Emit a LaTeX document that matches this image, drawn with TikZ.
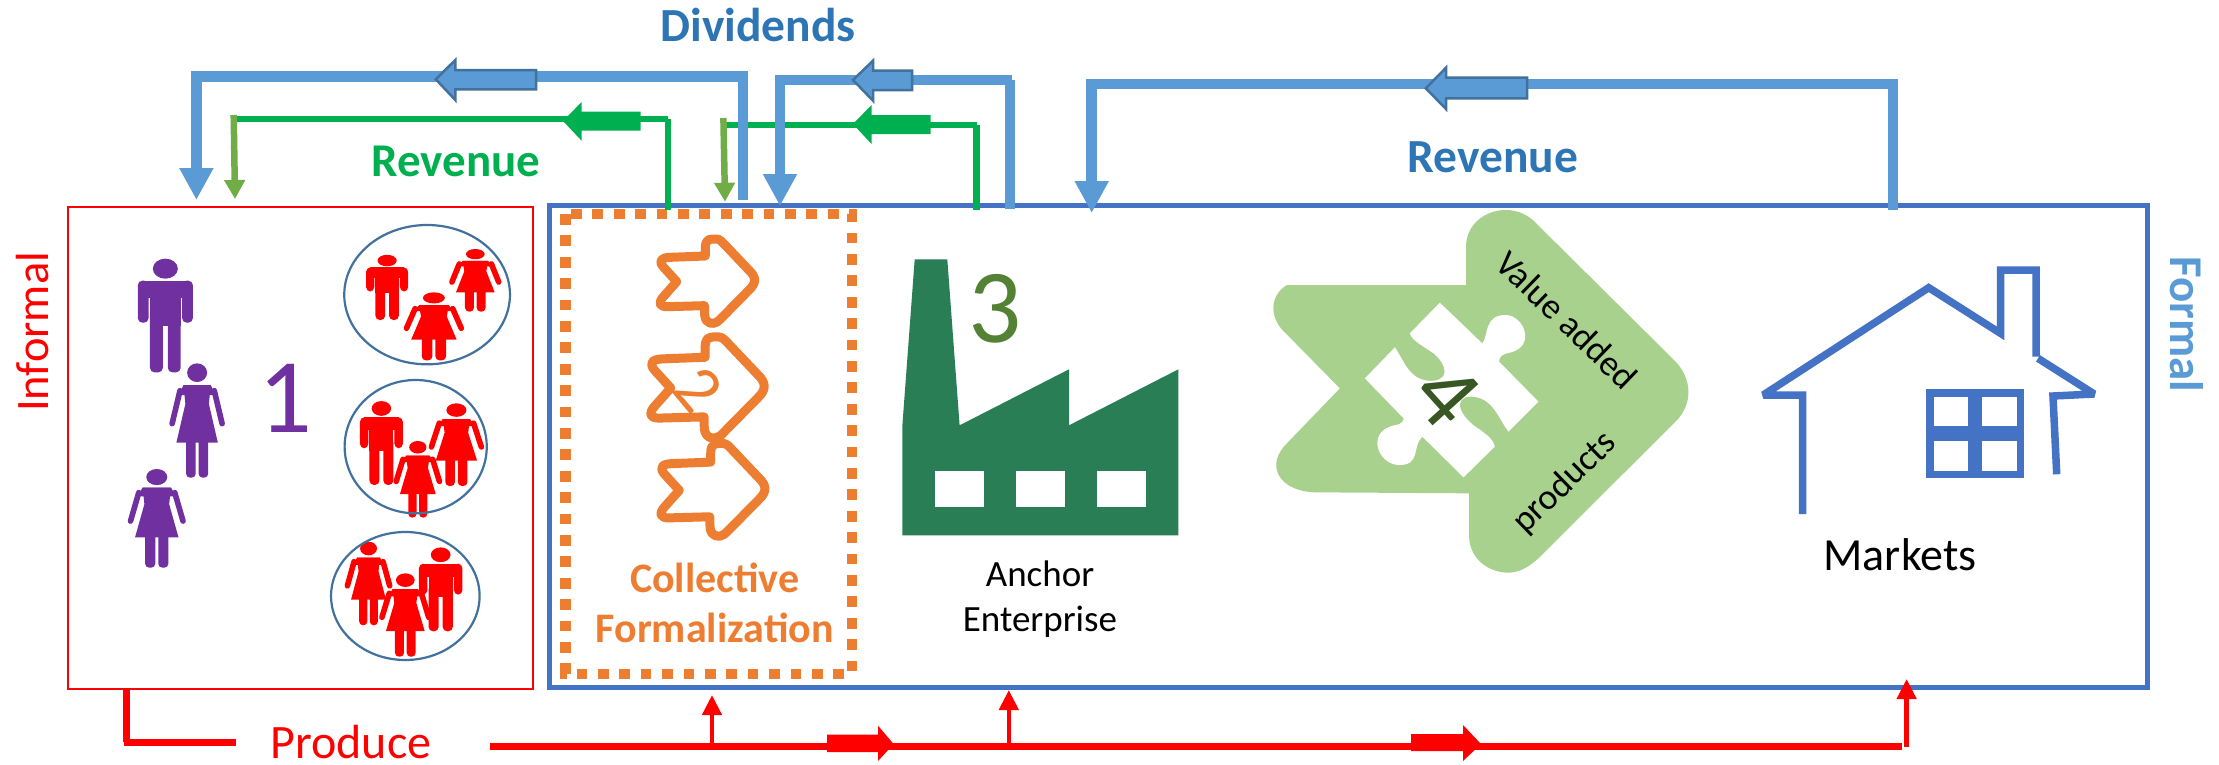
\documentclass[tikz,border=0pt]{standalone}
\usepackage{fontspec}
\setmainfont{Carlito}
\usetikzlibrary{arrows.meta}
\definecolor{cblue}{HTML}{4472C4}
\definecolor{lblue}{HTML}{5B9BD5}
\definecolor{dblue}{HTML}{41719C}
\definecolor{tblue}{HTML}{2E75B6}
\definecolor{cgreen}{HTML}{00B050}
\definecolor{lgreen}{HTML}{70AD47}
\definecolor{corange}{HTML}{ED7D31}
\definecolor{cpurple}{HTML}{7030A0}
\definecolor{factory}{HTML}{297E56}
\definecolor{pale}{HTML}{A9D18E}
\definecolor{three}{HTML}{548235}
\definecolor{four}{HTML}{385723}
\newcommand\fs[1]{\fontsize{#1}{#1}\selectfont}
\tikzset{
 lbl/.style={inner sep=0pt,outer sep=0pt,anchor=base},
 bluewire/.style={draw=lblue,line width=#1,line join=miter},
 greenwire/.style={draw=cgreen,line width=6.7pt},
 bluedown/.style={draw=lblue,line width=10.5pt,-{Triangle[length=32pt,width=32pt]}},
 greendown/.style={draw=lgreen,line width=6.5pt,-{Triangle[length=19pt,width=20pt]}},
 redup/.style={draw=red,line width=4.5pt,-{Triangle[length=20pt,width=19pt]}},
 redwire/.style={draw=red,line width=7pt},
 bluemid/.style={fill=lblue,draw=dblue,line width=2.5pt,line join=miter},
 greenmid/.style={fill=cgreen},
 redmid/.style={fill=red},
 orarrow/.style={draw=corange,line width=9pt,line join=round},
 bubble/.style={draw=dblue,line width=2.2pt},
 housewall/.style={draw=cblue,line width=7.5pt,line join=miter,miter limit=2.5},
}
\newcommand\manfig[5]{\begin{scope}[shift={(#1,#2)},xscale=#3,yscale=#4,fill=#5]
 \fill (0,29) ellipse [x radius=35,y radius=30];
 \fill[rounded corners=4.5pt] (-77,65) rectangle (-47,191);
 \fill[rounded corners=4.5pt] (47,65) rectangle (77,191);
 \fill (-62,65) rectangle (62,118);
 \fill (-43,65) rectangle (43,200);
 \fill[rounded corners=4.5pt] (-43,150) rectangle (-7,340);
 \fill[rounded corners=4.5pt] (7,150) rectangle (43,340);
\end{scope}}
\newcommand\womanfig[5]{\begin{scope}[shift={(#1,#2)},xscale=#3,yscale=#4,fill=#5]
 \fill (0,28) ellipse [x radius=28,y radius=28];
 \fill (-38,65) -- (38,65) -- (33,122) -- (58,238) -- (-58,238) -- (-33,122) -- cycle;
 \draw[#5,line width=5.6pt,line cap=round] (48,82) -- (70,181);
 \draw[#5,line width=5.6pt,line cap=round] (-48,82) -- (-70,181);
 \fill (-38,65) -- (38,65) -- (52,95) -- (-52,95) -- cycle;
 \fill[rounded corners=4pt] (-31,200) rectangle (-4,343);
 \fill[rounded corners=4pt] (4,200) rectangle (31,343);
\end{scope}}
\newcommand\chev[3]{\draw[orarrow,shift={(#1,#2)},xscale=#3/2.45,yscale=#3/3]
 (-78,1) -- (-110,-42) .. controls (-125,-62) and (-115,-71) .. (-95,-72) -- (-8,-76) -- (-8,-100) .. controls (-8,-130) and (5,-127) .. (19,-127) .. controls (28,-127) and (33,-118) .. (38,-112) -- (100,-32) .. controls (117,-12) and (117,5) .. (100,25) -- (30,112) .. controls (20,127) and (5,132) .. (-5,118) .. controls (-10,110) and (-10,100) .. (-10,73) -- (-100,76) .. controls (-120,77) and (-125,65) .. (-110,45) -- cycle;}
\begin{document}
\begin{tikzpicture}[x=1pt,y=-1pt]
\useasboundingbox (0,0) rectangle (2219,764);
\fill[white] (0,0) rectangle (2219,764);

% boxes
\node[draw=red,line width=2.8pt,inner sep=0pt,minimum width=465pt,minimum height=482pt] (informalbox) at (300.5,448) {};
\node[draw=cblue,line width=5pt,inner sep=0pt,minimum width=1598pt,minimum height=482pt] (formalbox) at (1348,446) {};
\draw[corange,line width=10.5pt,dash pattern=on 10.7pt off 10.7pt] (565.7,214) rectangle (852,674);

% people
\begin{scope}[shift={(0,180)},xscale=1/2.8,yscale=1/3]
 \manfig{463}{237}{1}{1}{cpurple}
 \womanfig{552}{550}{1}{1}{cpurple}
 \womanfig{439}{867}{1.05}{.863}{cpurple}
 \manfig{1084}{225}{.766}{.574}{red}
 \womanfig{1331}{207}{.936}{.548}{red}
 \womanfig{1215}{337}{1.096}{.595}{red}
 \manfig{1068}{664}{.78}{.738}{red}
 \womanfig{1278}{670}{1}{.723}{red}
 \womanfig{1170}{783}{.865}{.67}{red}
 \womanfig{1032}{1085}{.846}{.732}{red}
 \manfig{1234}{1103}{.79}{.738}{red}
 \womanfig{1135}{1180}{.936}{.729}{red}
 \draw[bubble] (1196,344) ellipse [x radius=232,y radius=209];
 \draw[bubble] (1164,800) ellipse [x radius=199,y radius=200];
 \draw[bubble] (1135,1248) ellipse [x radius=208,y radius=192];
\end{scope}

% orange arrows
\begin{scope}[shift={(540,190)}]
 \chev{413/2.45}{274/3}{1}
 \chev{414/2.45}{593/3}{1.2}
 \chev{427/2.45}{900/3}{1.1}
\end{scope}
\node[lbl,anchor=center,text=corange,rotate=-50,font=\fs{68}] (two) at (698,390) {2};

% factory
\fill[factory] (902.4,535.3) -- (902.4,425) -- (914.7,259.3) -- (947.3,259.3) -- (959.6,425.3) -- (1069,369.3) -- (1069,425.3) -- (1178.4,369.3) -- (1178.4,535.3) -- cycle;
\fill[white] (935,470.7) rectangle (983.7,506.7);
\fill[white] (1016,470.7) rectangle (1065,506.7);
\fill[white] (1097,470.7) rectangle (1146,506.7);

% value-added arrow with puzzle piece
\begin{scope}[shift={(1240,190)},xscale=1/1.6016,yscale=1/3]
 \fill[pale] (160,595) -- (68,420) .. controls (50,385) and (45,320) .. (75,285) -- (362,285) -- (362,170) .. controls (362,100) and (395,60) .. (425,60) .. controls (445,60) and (460,75) .. (470,92) -- (695,510) .. controls (725,565) and (725,640) .. (700,690) -- (478,1105) .. controls (460,1135) and (445,1148) .. (430,1148) .. controls (395,1148) and (367,1100) .. (367,1040) -- (367,910) -- (120,907) .. controls (70,905) and (40,840) .. (70,770) -- cycle;
 \fill[white] (320,338) -- (388,460) .. controls (398,440) and (390,375) .. (425,375) .. controls (455,375) and (475,470) .. (432,488) .. controls (420,492) and (415,500) .. (415,515) -- (478,635) -- (430,725) .. controls (415,690) and (405,620) .. (370,620) .. controls (340,620) and (350,680) .. (385,720) .. controls (395,735) and (405,745) .. (408,770) -- (358,862) -- (292,740) .. controls (275,770) and (290,825) .. (255,825) .. controls (220,825) and (200,720) .. (250,705) .. controls (258,702) and (262,695) .. (262,685) -- (200,565) -- (248,472) .. controls (262,510) and (270,565) .. (300,572) .. controls (335,578) and (335,530) .. (310,490) .. controls (290,465) and (275,450) .. (272,430) -- cycle;
 % house
 \draw[housewall] (901,972) -- (901,615) -- (838,615) -- (1103,293) -- (1218,430) -- (1218,240) -- (1275,240) -- (1275,500);
 \draw[housewall] (1278,505) -- (1368,612) -- (1302,618) -- (1308,853);
 \fill[cblue] (1099,597) rectangle (1255,865);
 \fill[white] (1112,621) rectangle (1166,708);
 \fill[white] (1188,621) rectangle (1244,708);
 \fill[white] (1112,752) rectangle (1166,842);
 \fill[white] (1188,752) rectangle (1244,842);
\end{scope}
\node[lbl,anchor=center,text=four,rotate=-48,font=\fs{96}] (four) at (1447,395) {4};

% labels
\node[lbl,text=red,rotate=90,font=\fs{46.5}] (informal) at (48,332) {Informal};
\node[lbl,text=lblue,rotate=-90,font=\bfseries\fs{47}] (formal) at (2170,324.5) {Formal};
\node[lbl,text=cpurple,font=\fs{106}] (one) at (285,432) {1};
\node[lbl,text=three,font=\fs{105}] (three) at (995,342) {3};
\node[lbl,text=corange,font=\bfseries\fs{42}] (coll) at (714.7,592.7) {Collective};
\node[lbl,text=corange,font=\bfseries\fs{42}] (form) at (714.7,642.7) {Formalization};
\node[lbl,font=\fs{37}] (anchorl) at (1040,586) {Anchor};
\node[lbl,font=\fs{37}] (enter) at (1040,631.7) {Enterprise};
\node[lbl,font=\fs{46}] (markets) at (1900,570) {Markets};
\node[lbl,anchor=center,rotate=-44,font=\fs{36}] (value) at (1567,320) {Value added};
\node[lbl,anchor=center,rotate=44,font=\fs{36}] (products) at (1565,483) {products};
\node[lbl,text=tblue,font=\bfseries\fs{47.5}] (div) at (758,41) {Dividends};
\node[lbl,text=cgreen,font=\bfseries\fs{47}] (revg) at (456,176) {Revenue};
\node[lbl,text=tblue,font=\bfseries\fs{47.5}] (revb) at (1493,172.7) {Revenue};
\node[lbl,text=red,font=\fs{48}] (produce) at (351,758.7) {Produce};

% anchor points of connectors
\coordinate (d1s) at (743,200); \coordinate (d1t) at (196.4,200);
\coordinate (d2s) at (1010,209); \coordinate (d2t) at (780,206);
\coordinate (r1s) at (668,210); \coordinate (r1t) at (235,199);
\coordinate (r2s) at (976.6,210); \coordinate (r2t) at (725,201.7);
\coordinate (rbs) at (1893,210); \coordinate (rbt) at (1091.7,213);
\coordinate (pl) at (126.7,689); \coordinate (up1) at (712,695); \coordinate (up2) at (1008.8,690); \coordinate (up3) at (1906.6,679);

% green connectors
\draw[greenwire] (r1s) -- (668,119);
\draw[greenwire] (668,119) -- (233,119);
\draw[greendown] (233.7,115) -- (r1t);
\draw[greenwire] (r2s) -- (976.6,125);
\draw[greenwire] (976.6,125) -- (724,125);
\draw[greendown] (723.4,118) -- (r2t);
% blue connectors
\draw[bluewire=10pt] (d1s) -- (743,76.5);
\draw[bluewire=11.6pt] (748,76.5) -- (191,76.5);
\draw[bluedown] (196.4,76) -- (d1t);
\draw[bluewire=10pt] (d2s) -- (1010,80);
\draw[bluewire=10pt] (1012,80) -- (775,80);
\draw[bluedown] (780,76) -- (d2t);
\draw[bluewire=10pt] (rbs) -- (1893,84);
\draw[bluewire=10pt] (1898,84) -- (1086,84);
\draw[bluedown] (1091.7,80) -- (rbt);
% block markers on the connectors
\draw[bluemid] (435.8,79.3) -- (455.3,60) -- (455.3,70) -- (536.2,70) -- (536.2,89.3) -- (455.3,89.3) -- (455.3,100) -- cycle;
\draw[bluemid] (853,80) -- (873,60.7) -- (873,70.7) -- (912,70.7) -- (912,90) -- (873,90) -- (873,100.7) -- cycle;
\draw[bluemid] (1425.8,88.3) -- (1446,67.7) -- (1446,77.7) -- (1527,77.7) -- (1527,98.3) -- (1446,98.3) -- (1446,109) -- cycle;
\fill[greenmid] (563,121) -- (581.6,102) -- (581.6,111.7) -- (640.7,111.7) -- (640.7,130.7) -- (581.6,130.7) -- (581.6,140.7) -- cycle;
\fill[greenmid] (853,124) -- (871.5,105) -- (871.5,115) -- (930.6,115) -- (930.6,134) -- (871.5,134) -- (871.5,144) -- cycle;

% produce line
\draw[redwire] (pl) -- (126.7,742);
\draw[redwire] (124,742) -- (235.7,742);
\draw[redwire] (490,746.5) -- (1902,746.5);
\draw[redup] (712,747) -- (up1);
\draw[redup] (1008.8,747) -- (up2);
\draw[redup] (1906.6,747) -- (up3);
\fill[redmid] (827,734.7) -- (878,734.7) -- (878,725.7) -- (893.6,744) -- (878,761) -- (878,752) -- (827,752) -- cycle;
\fill[redmid] (1411,734) -- (1463,734) -- (1463,725) -- (1481,744) -- (1463,761) -- (1463,751) -- (1411,751) -- cycle;
\end{tikzpicture}
\end{document}
